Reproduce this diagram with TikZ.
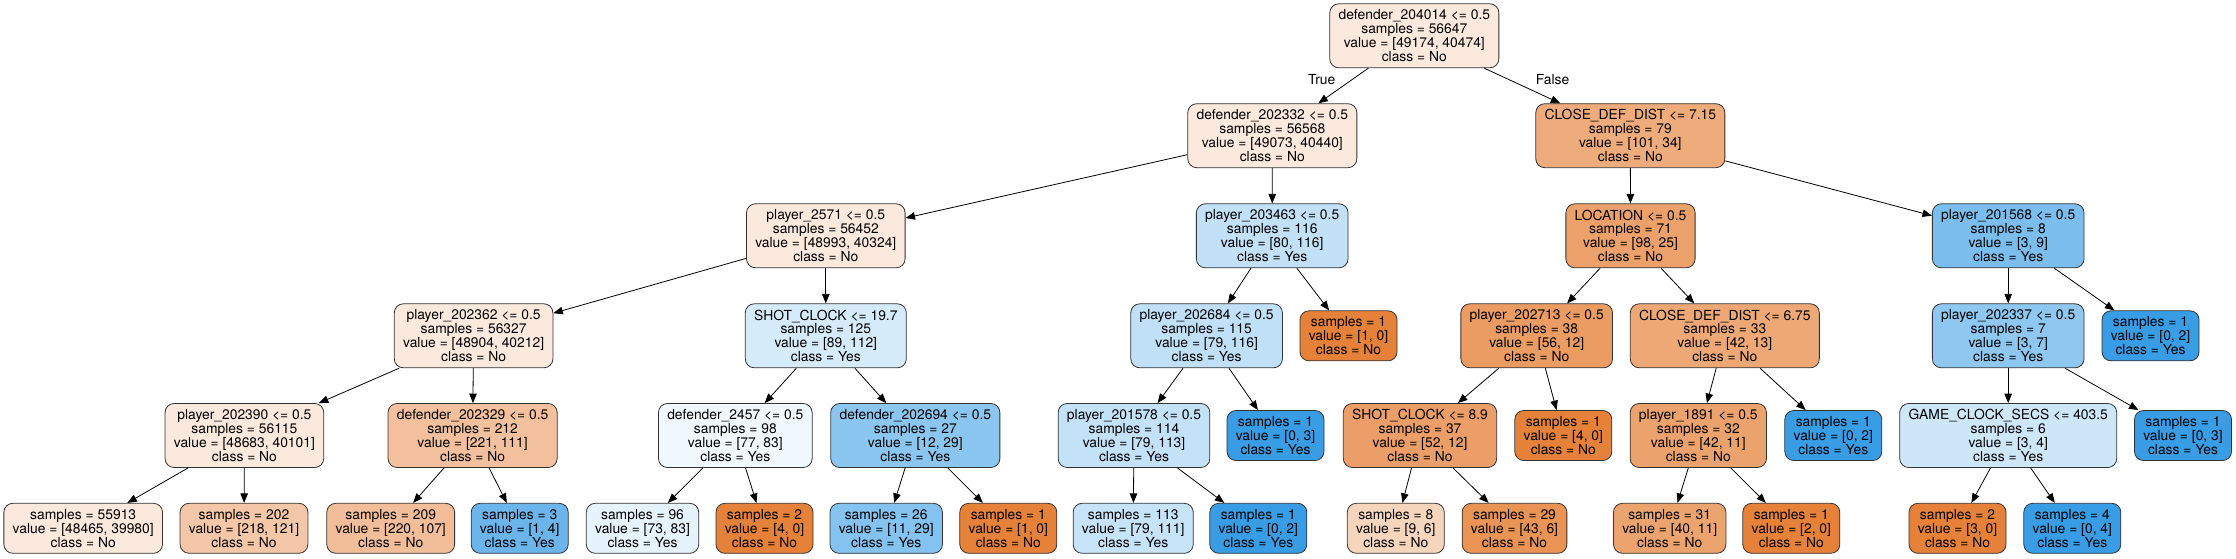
\documentclass[tikz,border=0pt]{standalone}
\usepackage{fontspec}
\setmainfont{TeX Gyre Heros}
\usetikzlibrary{arrows.meta}
\definecolor{cO}{RGB}{229,129,57}
\definecolor{cB}{RGB}{57,157,229}
\tikzset{
  tn/.style={draw=black!80, line width=0.8pt, rounded corners=9pt, align=center,
    inner xsep=8.8pt, inner ysep=0pt, minimum height=64pt,
    font=\fontsize{13.85}{13.9}\selectfont},
  lf/.style={tn, minimum height=50pt},
  ed/.style={draw=black, line width=0.8pt, -{Triangle[length=9.5pt,width=7.5pt]}},
  elab/.style={font=\fontsize{13.85}{13.9}\selectfont, inner sep=0pt},
}
\begin{document}
\begin{tikzpicture}[x=1pt,y=1pt]
\useasboundingbox (0,0) rectangle (2236,-558);
\fill[white] (0,0) rectangle (2236,-558);
% level 0
\node[tn, fill=cO!17.7!white] (r) at (1414.3,-35.8) {defender\_204014 <= 0.5\\samples = 56647\\value = [49174, 40474]\\class = No};
% level 1
\node[tn, fill=cO!17.6!white] (a) at (1272.3,-135.7) {defender\_202332 <= 0.5\\samples = 56568\\value = [49073, 40440]\\class = No};
\node[tn, fill=cO!66.3!white] (b) at (1630.3,-135.7) {CLOSE\_DEF\_DIST <= 7.15\\samples = 79\\value = [101, 34]\\class = No};
% level 2
\node[tn, fill=cO!17.7!white] (a1) at (825.8,-235.8) {player\_2571 <= 0.5\\samples = 56452\\value = [48993, 40324]\\class = No};
\node[tn, fill=cB!31.0!white] (a2) at (1272.2,-235.8) {player\_203463 <= 0.5\\samples = 116\\value = [80, 116]\\class = Yes};
\node[tn, fill=cO!74.5!white] (b1) at (1630.5,-235.8) {LOCATION <= 0.5\\samples = 71\\value = [98, 25]\\class = No};
\node[tn, fill=cB!66.7!white] (b2) at (2008.2,-235.8) {player\_201568 <= 0.5\\samples = 8\\value = [3, 9]\\class = Yes};
% level 3
\node[tn, fill=cO!17.8!white] (a11) at (473.6,-335.8) {player\_202362 <= 0.5\\samples = 56327\\value = [48904, 40212]\\class = No};
\node[tn, fill=cB!20.5!white] (a12) at (825.8,-335.8) {SHOT\_CLOCK <= 19.7\\samples = 125\\value = [89, 112]\\class = Yes};
\node[tn, fill=cB!31.9!white] (a21) at (1206.6,-335.8) {player\_202684 <= 0.5\\samples = 115\\value = [79, 116]\\class = Yes};
\node[lf, fill=cO] (a22) at (1348.5,-335.8) {samples = 1\\value = [1, 0]\\class = No};
\node[tn, fill=cO!78.6!white] (b11) at (1536.7,-335.8) {player\_202713 <= 0.5\\samples = 38\\value = [56, 12]\\class = No};
\node[tn, fill=cO!69.0!white] (b12) at (1724.8,-335.8) {CLOSE\_DEF\_DIST <= 6.75\\samples = 33\\value = [42, 13]\\class = No};
\node[tn, fill=cB!57.1!white] (b21) at (2008.2,-335.8) {player\_202337 <= 0.5\\samples = 7\\value = [3, 7]\\class = Yes};
\node[lf, fill=cB] (b22) at (2150.5,-335.8) {samples = 1\\value = [0, 2]\\class = Yes};
% level 4
\node[tn, fill=cO!17.6!white] (a111) at (244.4,-435.5) {player\_202390 <= 0.5\\samples = 56115\\value = [48683, 40101]\\class = No};
\node[tn, fill=cO!49.8!white] (a112) at (472.6,-435.5) {defender\_202329 <= 0.5\\samples = 212\\value = [221, 111]\\class = No};
\node[tn, fill=cB!7.2!white] (a121) at (735.3,-435.5) {defender\_2457 <= 0.5\\samples = 98\\value = [77, 83]\\class = Yes};
\node[tn, fill=cB!58.6!white] (a122) at (915.3,-435.5) {defender\_202694 <= 0.5\\samples = 27\\value = [12, 29]\\class = Yes};
\node[tn, fill=cB!30.1!white] (a211) at (1134,-435.5) {player\_201578 <= 0.5\\samples = 114\\value = [79, 113]\\class = Yes};
\node[lf, fill=cB] (a212) at (1275.5,-435.5) {samples = 1\\value = [0, 3]\\class = Yes};
\node[tn, fill=cO!76.9!white] (b111) at (1420,-435.5) {SHOT\_CLOCK <= 8.9\\samples = 37\\value = [52, 12]\\class = No};
\node[lf, fill=cO] (b112) at (1563.3,-435.5) {samples = 1\\value = [4, 0]\\class = No};
\node[tn, fill=cO!73.8!white] (b121) at (1698.3,-435.5) {player\_1891 <= 0.5\\samples = 32\\value = [42, 11]\\class = No};
\node[lf, fill=cB] (b122) at (1833.3,-435.5) {samples = 1\\value = [0, 2]\\class = Yes};
\node[tn, fill=cB!25!white] (b211) at (2008.2,-435.5) {GAME\_CLOCK\_SECS <= 403.5\\samples = 6\\value = [3, 4]\\class = Yes};
\node[lf, fill=cB] (b212) at (2183,-435.5) {samples = 1\\value = [0, 3]\\class = Yes};
% level 5
\node[lf, fill=cO!17.5!white] (a1111) at (83.2,-528.3) {samples = 55913\\value = [48465, 39980]\\class = No};
\node[lf, fill=cO!44.5!white] (a1112) at (244,-528.3) {samples = 202\\value = [218, 121]\\class = No};
\node[lf, fill=cO!51.4!white] (a1121) at (390.7,-528.3) {samples = 209\\value = [220, 107]\\class = No};
\node[lf, fill=cB!75!white] (a1122) at (519.7,-528.3) {samples = 3\\value = [1, 4]\\class = Yes};
\node[lf, fill=cB!12.0!white] (a1211) at (642.5,-528.3) {samples = 96\\value = [73, 83]\\class = Yes};
\node[lf, fill=cO] (a1212) at (764.5,-528.3) {samples = 2\\value = [4, 0]\\class = No};
\node[lf, fill=cB!62.1!white] (a1221) at (886.2,-528.3) {samples = 26\\value = [11, 29]\\class = Yes};
\node[lf, fill=cO] (a1222) at (1008.3,-528.3) {samples = 1\\value = [1, 0]\\class = No};
\node[lf, fill=cB!28.8!white] (a2111) at (1133.2,-528.3) {samples = 113\\value = [79, 111]\\class = Yes};
\node[lf, fill=cB] (a2112) at (1258.3,-528.3) {samples = 1\\value = [0, 2]\\class = Yes};
\node[lf, fill=cO!33.3!white] (b1111) at (1395.8,-528.3) {samples = 8\\value = [9, 6]\\class = No};
\node[lf, fill=cO!86.0!white] (b1112) at (1514.5,-528.3) {samples = 29\\value = [43, 6]\\class = No};
\node[lf, fill=cO!72.5!white] (b1211) at (1669.7,-528.3) {samples = 31\\value = [40, 11]\\class = No};
\node[lf, fill=cO] (b1212) at (1791.3,-528.3) {samples = 1\\value = [2, 0]\\class = No};
\node[lf, fill=cO] (b2111) at (1957.5,-528.3) {samples = 2\\value = [3, 0]\\class = No};
\node[lf, fill=cB] (b2112) at (2072.3,-528.3) {samples = 4\\value = [0, 4]\\class = Yes};
% edges
\foreach \p/\c in {r/a, r/b, a/a1, a/a2, b/b1, b/b2,
  a1/a11, a1/a12, a2/a21, a2/a22, b1/b11, b1/b12, b2/b21, b2/b22,
  a11/a111, a11/a112, a12/a121, a12/a122, a21/a211, a21/a212,
  b11/b111, b11/b112, b12/b121, b12/b122, b21/b211, b21/b212,
  a111/a1111, a111/a1112, a112/a1121, a112/a1122, a121/a1211, a121/a1212,
  a122/a1221, a122/a1222, a211/a2111, a211/a2112, b111/b1111, b111/b1112,
  b121/b1211, b121/b1212, b211/b2111, b211/b2112}
  \draw[ed] (\p) -- (\c);
% edge labels
\node[elab] (lTrue) at (1321.7,-79.5) {True};
\node[elab] (lFalse) at (1552.5,-80) {False};
\end{tikzpicture}
\end{document}
